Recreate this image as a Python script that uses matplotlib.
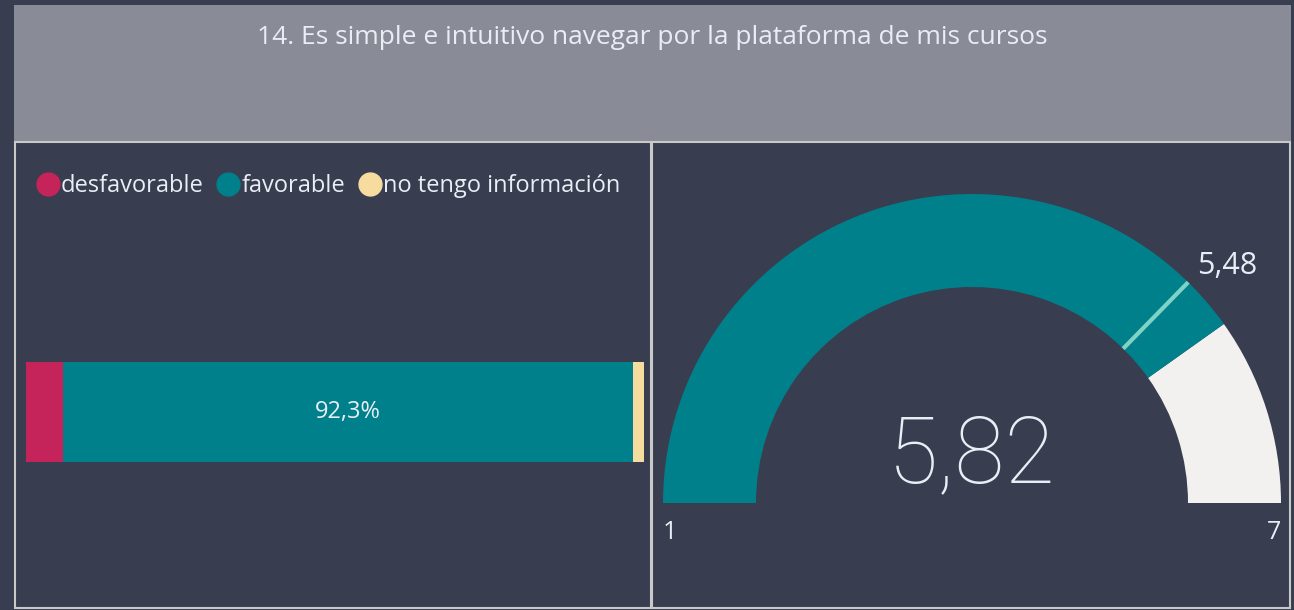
import matplotlib
matplotlib.use("Agg")
import matplotlib.pyplot as plt
from matplotlib.patches import Rectangle, Wedge
from matplotlib.lines import Line2D
import numpy as np

# data
title = "14. Es simple e intuitivo navegar por la plataforma de mis cursos"
categories = ["desfavorable", "favorable", "no tengo información"]
shares = [6.0, 92.3, 1.7]
gauge_min, gauge_max = 1, 7
gauge_value = 5.82
gauge_target = 5.48

colors = ["#C4245A", "#00808A", "#F7DCA0"]
BG = "#383D4F"
TXT = "#E9EEF6"
FONT = "Open Sans"

W, H = 1294, 610
fig = plt.figure(figsize=(W / 100, H / 100), dpi=100, facecolor=BG)

# background layer in pixel coords for the panels
bg = fig.add_axes([0, 0, 1, 1])
bg.set_xlim(0, W)
bg.set_ylim(H, 0)
bg.axis("off")
bg.add_patch(Rectangle((14, 5), 1277, 136, facecolor="#898C96", edgecolor="none"))
bg.add_patch(Rectangle((14.5, 141.5), 636, 466, facecolor="none", edgecolor="#C9C9C9", lw=1.5))
bg.add_patch(Rectangle((651.5, 141.5), 638, 466, facecolor="none", edgecolor="#C9C9C9", lw=1.5))
bg.text(652, 38, title, color=TXT, fontsize=19, family=FONT, ha="center", va="center")


def fig_rect(x0, y0, x1, y1):
    return [x0 / W, 1 - y1 / H, (x1 - x0) / W, (y1 - y0) / H]


# stacked bar
ax = fig.add_axes(fig_rect(26, 362, 644, 462))
left = 0
for cat, val, col in zip(categories, shares, colors):
    ax.barh(0, val, left=left, height=1, color=col, edgecolor="none")
    left += val
ax.set_xlim(0, sum(shares))
ax.set_ylim(-0.5, 0.5)
ax.axis("off")
fav = shares[1]
ax.text(shares[0] + fav / 2, 0, ("%.1f%%" % fav).replace(".", ","), color=TXT,
        fontsize=17, family=FONT, ha="center", va="center")

handles = [Line2D([], [], marker="o", ls="none", color=c, markersize=16.5) for c in colors]
leg = fig.legend(handles, categories, loc="center left", bbox_to_anchor=(36 / W, 1 - 186 / H),
                 ncol=3, frameon=False, handletextpad=0.05, columnspacing=0.55,
                 handlelength=1.0, borderaxespad=0, borderpad=0, prop={"family": FONT, "size": 17})
for t in leg.get_texts():
    t.set_color(TXT)

# gauge
R = 309.0
ga = fig.add_axes(fig_rect(663, 194, 1281, 560))
ga.set_xlim(-1, 1)
ga.set_ylim(-57 / R, 1)
ga.axis("off")


def ang(v):
    return 180 - (v - gauge_min) / (gauge_max - gauge_min) * 180


ring = 1 - 216 / R
a_val = ang(gauge_value)
ga.add_patch(Wedge((0, 0), 1, 0, a_val, width=ring, facecolor="#F2F1EF", edgecolor="none"))
ga.add_patch(Wedge((0, 0), 1, a_val, 180, width=ring, facecolor=colors[1], edgecolor="none"))
a_t = np.radians(ang(gauge_target))
ga.plot([(1 - ring) * np.cos(a_t), np.cos(a_t)], [(1 - ring) * np.sin(a_t), np.sin(a_t)],
        color="#80D2C6", lw=3, solid_capstyle="butt")
ga.text(np.cos(a_t) + 0.03, np.sin(a_t) + 0.005, ("%.2f" % gauge_target).replace(".", ","),
        color=TXT, fontsize=22, family=FONT, ha="left", va="bottom")
ga.text(0, 0.15, ("%.2f" % gauge_value).replace(".", ","), color=TXT, fontsize=66,
        family="Roboto", fontweight="light", ha="center", va="center")
ga.text(-1, -0.095, str(gauge_min), color=TXT, fontsize=18, family=FONT, ha="left", va="center")
ga.text(1, -0.095, str(gauge_max), color=TXT, fontsize=18, family=FONT, ha="right", va="center")

fig.savefig("out.png", dpi=100, facecolor=BG)
